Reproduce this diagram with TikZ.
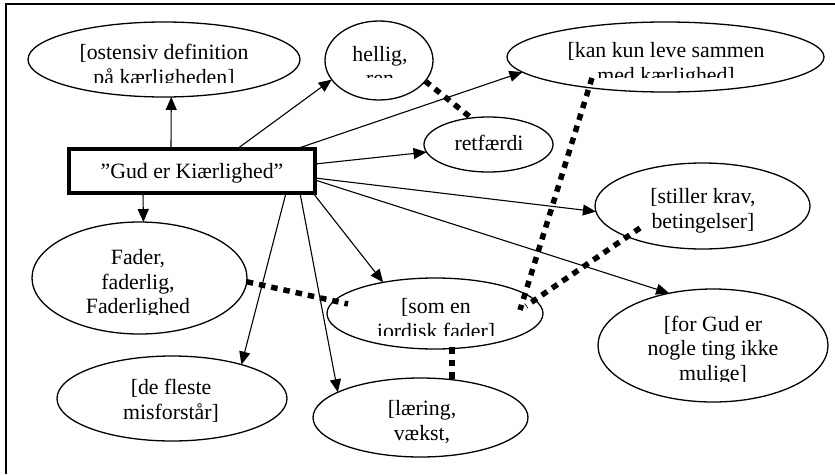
\documentclass[tikz,border=0pt]{standalone}
\usepackage{fontspec}
\setmainfont{Liberation Serif}
\usetikzlibrary{arrows.meta,shapes.geometric}
\begin{document}
\begin{tikzpicture}[x=1pt,y=-1pt,
  ell/.style={draw, ellipse, line width=1.3pt, inner sep=0pt, outer sep=0pt},
  txt/.style={anchor=base, inner sep=0pt, font=\fontsize{21.8}{25}\selectfont},
  arr/.style={line width=1.1pt, -{Triangle[length=13pt,width=11pt]}},
  dotline/.style={line width=5.5pt, dash pattern=on 6.5pt off 6pt},
  framel/.style={line width=1.8pt}]
\useasboundingbox (0,0) rectangle (835,474);
% frame
\draw[framel] (835,4) -- (6,4) -- (6,474);
% ellipses
\node[ell, minimum width=272pt, minimum height=75pt] (ost) at (164,59.5) {};
\node[ell, minimum width=108pt, minimum height=79pt] (hel) at (379,60.5) {};
\node[ell, minimum width=317pt, minimum height=70pt] (kan) at (665.5,57) {};
\node[ell, minimum width=129pt, minimum height=55pt] (ret) at (488.5,144.5) {};
\node[ell, minimum width=215pt, minimum height=86pt] (sti) at (702.5,206) {};
\node[ell, minimum width=215pt, minimum height=112pt] (fad) at (139.5,278) {};
\node[ell, minimum width=216pt, minimum height=71pt] (som) at (435,313.5) {};
\node[ell, minimum width=230pt, minimum height=85pt] (def) at (172,398.5) {};
\node[ell, minimum width=215pt, minimum height=79pt] (lae) at (420.5,417.5) {};
\node[ell, minimum width=230pt, minimum height=113pt] (for) at (713,345.5) {};
% central box
\node[draw, line width=3.2pt, minimum width=246pt, minimum height=44pt, inner sep=0pt, outer sep=0pt] (gud) at (192,171) {};
\node[txt] (gudt) at (192,178) {”Gud er Kiærlighed”};
% texts (clipped like text boxes)
\begin{scope}
\clip (28,20) rectangle (300,82);
\node[txt] (ost1) at (164,59) {[ostensiv definition};
\node[txt] (ost2) at (164,84) {på kærligheden]};
\end{scope}
\begin{scope}
\clip (325,20) rectangle (433,77);
\node[txt] (hel1) at (380,61) {hellig,};
\node[txt] (hel2) at (380,85.5) {ren};
\end{scope}
\begin{scope}
\clip (507,20) rectangle (824,77);
\node[txt] (kan1) at (666,57) {[kan kun leve sammen};
\node[txt] (kan2) at (666,82) {med kærlighed]};
\end{scope}
\node[txt] (ret1) at (489,150) {retfærdi};
\node[txt] (sti1) at (703,203) {[stiller krav,};
\node[txt] (sti2) at (703,228) {betingelser]};
\begin{scope}
\clip (32,220) rectangle (247,314);
\node[txt] (fad1) at (138,264) {Fader,};
\node[txt] (fad2) at (138,289) {faderlig,};
\node[txt] (fad3) at (138,313) {Faderlighed};
\end{scope}
\begin{scope}
\clip (327,278) rectangle (543,335);
\node[txt] (som1) at (436,313) {[som en};
\node[txt] (som2) at (436,338) {jordisk fader]};
\end{scope}
\node[txt] (def1) at (171,394) {[de fleste};
\node[txt] (def2) at (171,419) {misforstår]};
\begin{scope}
\clip (313,378) rectangle (528,442);
\node[txt] (lae1) at (422,415) {[læring,};
\node[txt] (lae2) at (422,440) {vækst,};
\end{scope}
\begin{scope}
\clip (598,289) rectangle (828,381);
\node[txt] (for1) at (713,331) {[for Gud er};
\node[txt] (for2) at (713,355.5) {nogle ting ikke};
\node[txt] (for3) at (713,380) {mulige]};
\end{scope}
% arrows
\draw[arr] ([xshift=102pt]gud.north west) -- (ost.-79.4);
\draw[arr] ([xshift=168pt]gud.north west) -- (hel.202);
\draw[arr] ([xshift=227pt]gud.north west) -- (kan.186.2);
\draw[arr] ([yshift=-15pt]gud.north east) -- (ret.187.5);
\draw[arr] ([yshift=-29pt]gud.north east) -- (sti.183.2);
\draw[arr] ([yshift=-31pt]gud.north east) -- (for.130.1);
\draw[arr] ([xshift=74pt]gud.south west) -- (fad.86.4);
\draw[arr] ([xshift=217pt]gud.south west) -- (def.26.9);
\draw[arr] ([xshift=231pt]gud.south west) -- (lae.163.4);
\draw[arr] ([xshift=-2pt]gud.south east) -- (som.149.3);
% dotted relations
\draw[dotline] (hel.-24.4) -- (ret.123.4);
\draw[dotline] ([shift={(-73.5pt,-21pt)}]kan.center) -- ([shift={(85pt,3.5pt)}]som.center);
\draw[dotline] ([shift={(-62.5pt,-22pt)}]sti.center) -- ([shift={(91pt,7.5pt)}]som.center);
\draw[dotline] (fad.-2.2) -- ([shift={(-87pt,9.5pt)}]som.center);
\draw[dotline] ([shift={(17pt,-33.5pt)}]som.center) -- ([shift={(31.5pt,33.5pt)}]lae.center);
\end{tikzpicture}
\end{document}
